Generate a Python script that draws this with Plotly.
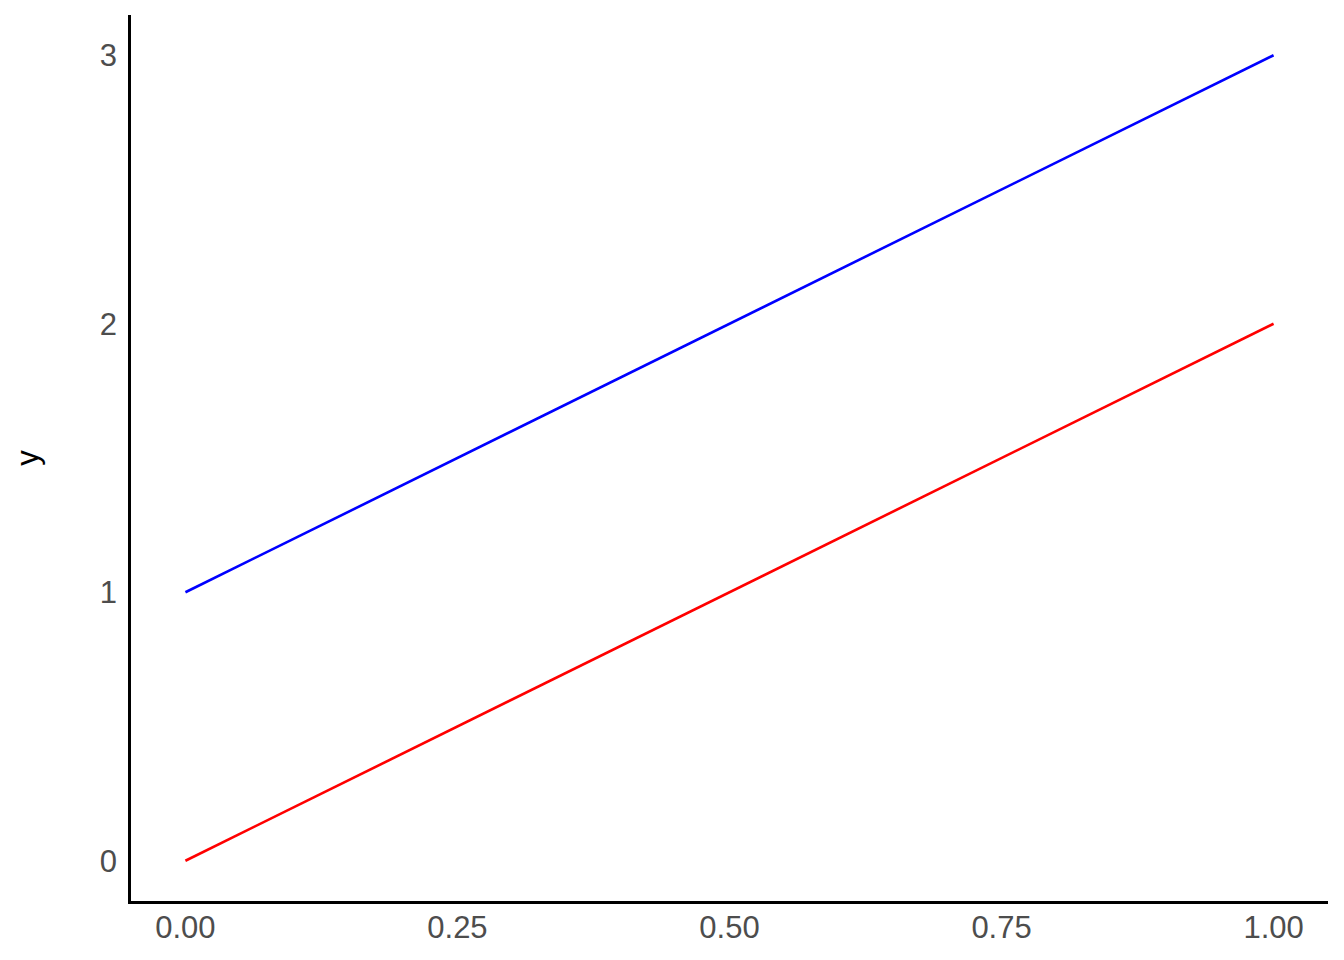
import plotly.graph_objects as go

x_vals = [0.0, 1.0]
red_y = [0, 2]
blue_y = [1, 3]
x_ticks = [0.0, 0.25, 0.5, 0.75, 1.0]
x_ticklabels = ["0.00", "0.25", "0.50", "0.75", "1.00"]
y_ticks = [0, 1, 2, 3]
y_ticklabels = ["0", "1", "2", "3"]

fig = go.Figure()
fig.add_trace(go.Scatter(x=x_vals, y=red_y, mode="lines", line=dict(color="#ff0000", width=2.6), showlegend=False))
fig.add_trace(go.Scatter(x=x_vals, y=blue_y, mode="lines", line=dict(color="#0000ff", width=2.6), showlegend=False))

fig.update_layout(
    width=1336, height=952,
    margin=dict(l=123, r=16, t=7, b=59),
    paper_bgcolor="white", plot_bgcolor="white",
    font=dict(family="Liberation Sans, Arial, sans-serif", size=31, color="#4d4d4d"),
    xaxis=dict(range=[-0.05, 1.05], tickvals=x_ticks, ticktext=x_ticklabels,
               showgrid=False, zeroline=False, showline=True, linecolor="black", linewidth=2.5,
               ticks="", ticklabelstandoff=-3),
    yaxis=dict(range=[-0.15, 3.15], tickvals=y_ticks, ticktext=y_ticklabels,
               showgrid=False, zeroline=False, showline=True, linecolor="black", linewidth=2.5,
               ticks="", ticklabelstandoff=5,
               title=dict(text="y", font=dict(color="black", size=31), standoff=52)),
)

fig.write_html("out.html")
